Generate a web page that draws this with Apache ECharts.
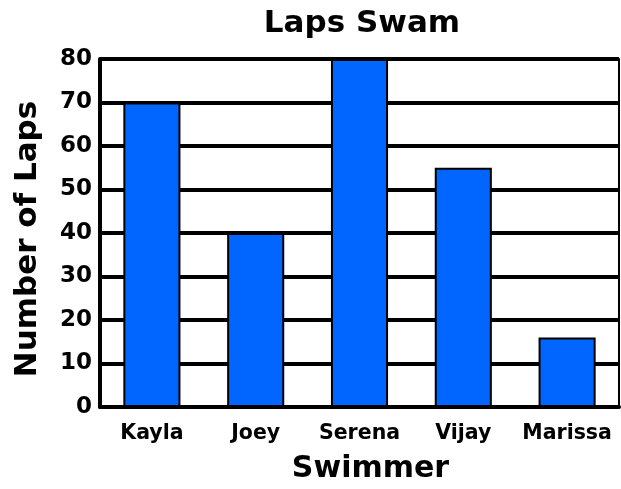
<!DOCTYPE html>
<html><head><meta charset="utf-8">
<script src="https://cdn.jsdelivr.net/npm/echarts@6/dist/echarts.min.js"></script>
<style>html,body{margin:0;padding:0;background:#fff}#c{width:621px;height:489px}</style>
</head><body><div id="c"></div>
<script>
const categories = ["Kayla", "Joey", "Serena", "Vijay", "Marissa"];
const laps = [70, 40, 80, 55, 16];
const yTicks = [0, 10, 20, 30, 40, 50, 60, 70, 80];

const chart = echarts.init(document.getElementById('c'));
const F = '"DejaVu Sans", "Liberation Sans", sans-serif';
chart.setOption({
  animation: false,
  backgroundColor: '#fff',
  title: { text: 'Laps Swam', left: 357, top: 3, textAlign: 'center',
    textStyle: { fontFamily: F, fontWeight: 'bold', fontSize: 31, color: '#000' } },
  grid: { left: 100, right: 2, top: 59, bottom: 82, containLabel: false },
  xAxis: {
    type: 'category', data: categories,
    name: 'Swimmer', nameLocation: 'middle', nameGap: 47,
    nameTextStyle: { fontFamily: F, fontWeight: 'bold', fontSize: 30, color: '#000', padding: [0, 0, 0, 22] },
    axisLine: { lineStyle: { color: '#000', width: 4 } },
    axisTick: { show: false },
    axisLabel: { interval: 0, fontFamily: F, fontWeight: 'bold', fontSize: 20.5, color: '#000', margin: 16 }
  },
  yAxis: [{
    type: 'value', min: yTicks[0], max: yTicks[yTicks.length - 1], interval: 10,
    name: 'Number of Laps', nameLocation: 'middle', nameGap: 57,
    nameTextStyle: { fontFamily: F, fontWeight: 'bold', fontSize: 31, color: '#000', padding: [0, 12, 0, 0] },
    axisLine: { show: true, lineStyle: { color: '#000', width: 4 } },
    axisTick: { show: false },
    axisLabel: { fontFamily: F, fontWeight: 'bold', fontSize: 23, color: '#000', margin: 8 },
    splitLine: { show: true, lineStyle: { color: '#000', width: 4 } }
  }, {
    type: 'value', position: 'right', min: 0, max: 80, interval: 10,
    axisLine: { show: true, lineStyle: { color: '#000', width: 2 } },
    axisTick: { show: false }, axisLabel: { show: false }, splitLine: { show: false }
  }],
  series: [{
    type: 'bar', data: laps, barWidth: '55%',
    itemStyle: { color: '#0066ff', borderColor: '#000', borderWidth: 2 }
  }]
});
</script></body></html>
